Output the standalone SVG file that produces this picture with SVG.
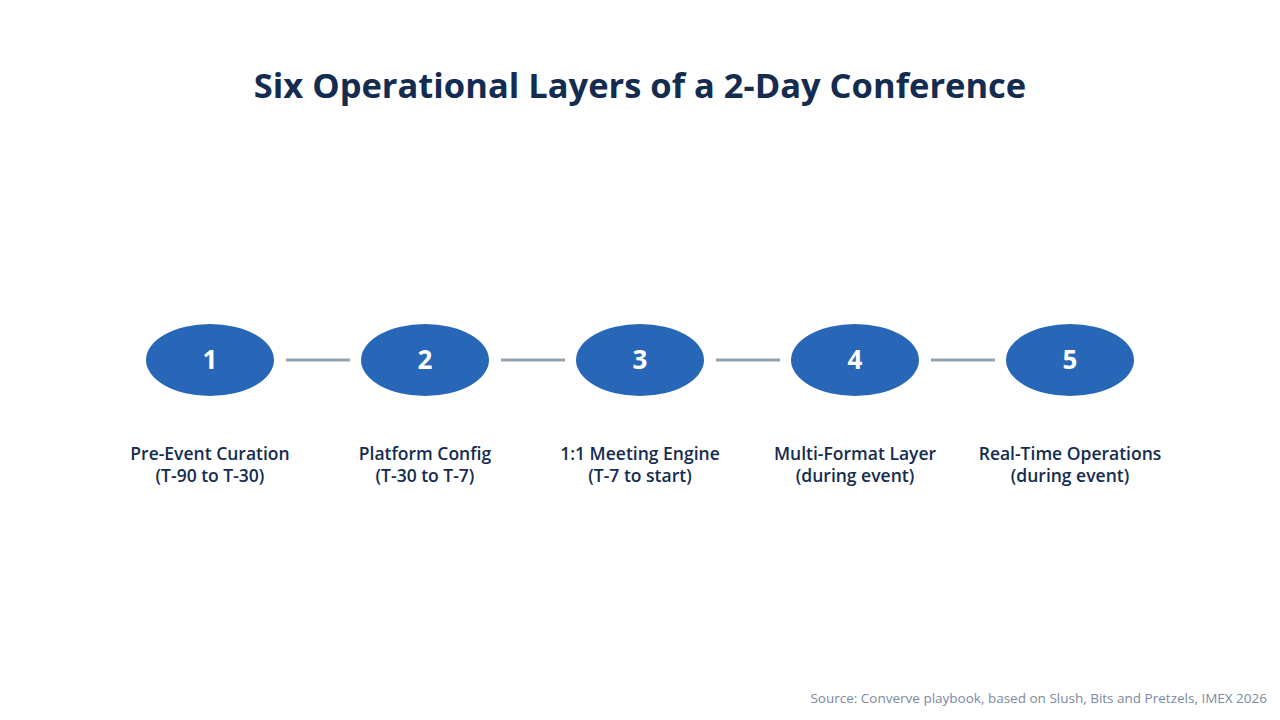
<svg xmlns="http://www.w3.org/2000/svg" width="1280" height="720" viewBox="0 0 1280 720">
<style>
.t{font-family:"Open Sans","Liberation Sans",sans-serif;fill:#142c50}
.n{fill:#2866b8}
.num{font-family:"Open Sans","Liberation Sans",sans-serif;font-weight:700;font-size:26px;fill:#fff;text-anchor:middle}
.lb{font-size:17.5px;font-weight:600;text-anchor:middle}
.c{stroke:#96a2b2;stroke-width:3}
</style>
<rect width="1280" height="720" fill="#fff"/>
<text class="t" x="640" y="98" font-size="34.5" font-weight="700" text-anchor="middle">Six Operational Layers of a 2-Day Conference</text>
<g id="connectors">
<line class="c" x1="286" y1="360" x2="350" y2="360"/>
<line class="c" x1="501" y1="360" x2="565" y2="360"/>
<line class="c" x1="716" y1="360" x2="780" y2="360"/>
<line class="c" x1="931" y1="360" x2="995" y2="360"/>
</g>
<g id="node1"><ellipse class="n" cx="210" cy="360" rx="64" ry="36"/><text class="num" x="210" y="369">1</text><text class="t lb" x="210" y="460">Pre-Event Curation</text><text class="t lb" x="210" y="482">(T-90 to T-30)</text></g>
<g id="node2"><ellipse class="n" cx="425" cy="360" rx="64" ry="36"/><text class="num" x="425" y="369">2</text><text class="t lb" x="425" y="460">Platform Config</text><text class="t lb" x="425" y="482">(T-30 to T-7)</text></g>
<g id="node3"><ellipse class="n" cx="640" cy="360" rx="64" ry="36"/><text class="num" x="640" y="369">3</text><text class="t lb" x="640" y="460">1:1 Meeting Engine</text><text class="t lb" x="640" y="482">(T-7 to start)</text></g>
<g id="node4"><ellipse class="n" cx="855" cy="360" rx="64" ry="36"/><text class="num" x="855" y="369">4</text><text class="t lb" x="855" y="460">Multi-Format Layer</text><text class="t lb" x="855" y="482">(during event)</text></g>
<g id="node5"><ellipse class="n" cx="1070" cy="360" rx="64" ry="36"/><text class="num" x="1070" y="369">5</text><text class="t lb" x="1070" y="460">Real-Time Operations</text><text class="t lb" x="1070" y="482">(during event)</text></g>
<text x="1267" y="703" font-family="Open Sans,Liberation Sans,sans-serif" font-size="13.5" fill="#7a8aa0" text-anchor="end">Source: Converve playbook, based on Slush, Bits and Pretzels, IMEX 2026</text>
</svg>
